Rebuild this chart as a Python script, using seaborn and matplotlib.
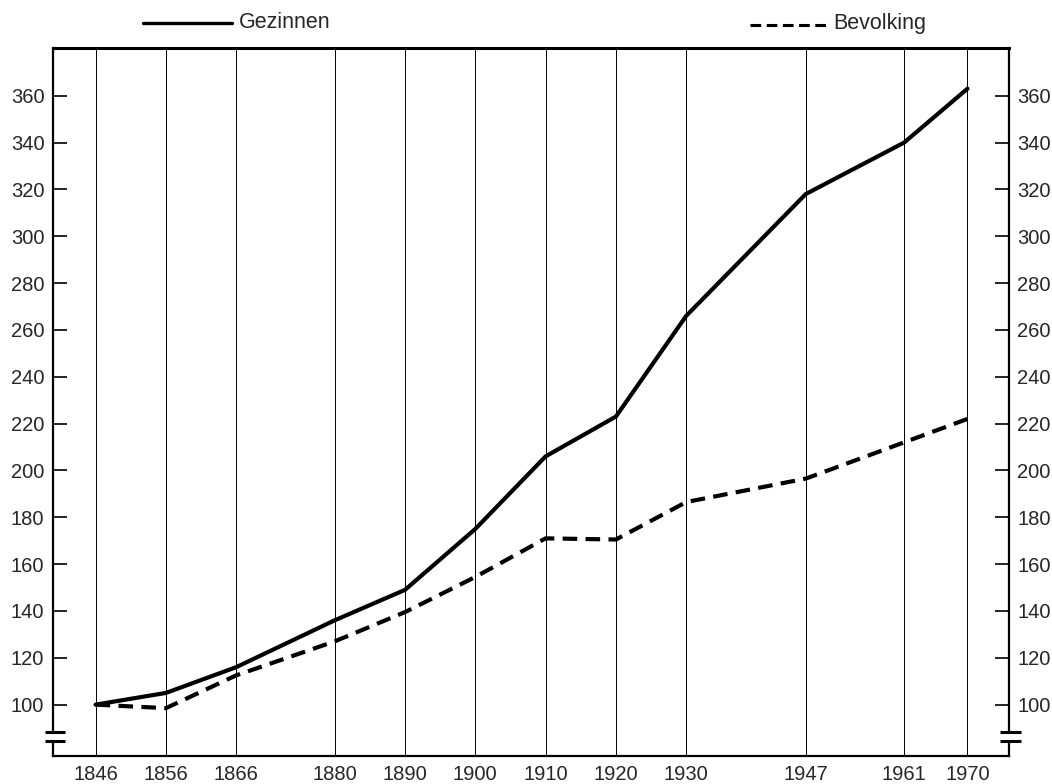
import matplotlib
matplotlib.use("Agg")
import matplotlib.pyplot as plt
from matplotlib.lines import Line2D
import seaborn as sns
import pandas as pd

years = [1846, 1856, 1866, 1880, 1890, 1900, 1910, 1920, 1930, 1947, 1961, 1970]
gezinnen = [100, 105, 116, 136, 149, 175, 206, 223, 266, 318, 340, 363]
bevolking = [100, 98.5, 112.5, 127, 139.5, 154.5, 171, 170.5, 186.5, 196.5, 212, 222]
yticks = list(range(100, 361, 20))
series_names = ["Gezinnen", "Bevolking"]

sns.set_style("white")
plt.rcParams['font.family'] = ['Liberation Sans', 'DejaVu Sans']

df = pd.DataFrame({
    "jaar": years * 2,
    "index": gezinnen + bevolking,
    "reeks": [series_names[0]] * len(years) + [series_names[1]] * len(years),
})

fig = plt.figure(figsize=(10.52, 7.84), dpi=100)
ax = fig.add_axes([0.0501, 0.0361, 0.909, 0.9031])

sns.lineplot(data=df, x="jaar", y="index", hue="reeks", style="reeks",
             palette={series_names[0]: "black", series_names[1]: "black"},
             dashes={series_names[0]: "", series_names[1]: (3.5, 2)},
             linewidth=3.0, legend=False, ax=ax, zorder=5)

ax.set_xlim(1839.9, 1975.9)
ax.set_ylim(78.2, 380.5)
ax.set_xticks(years)
ax.set_xticklabels([str(y) for y in years])
ax.set_yticks(yticks)
ax.set_yticklabels([str(v) for v in yticks])
ax.set_xlabel("")
ax.set_ylabel("")

ax.grid(axis="x", color="black", linewidth=0.7)
ax.grid(axis="y", visible=False)

ax.tick_params(axis="x", length=0, pad=7, labelsize=14.5)
ax.tick_params(axis="y", which="both", direction="in", length=10, width=1.2,
               left=True, right=True, labelleft=True, labelright=True,
               labelsize=14.5, pad=6, color="black")

for name, sp in ax.spines.items():
    sp.set_visible(True)
    sp.set_color("black")
    sp.set_linewidth(1.6)
ax.spines["top"].set_linewidth(2.2)

# axis break marks on both vertical axes
yt = ax.get_yaxis_transform()
for x0, x1, xs in [(-0.008, 0.013, 0.0), (0.9906, 1.0126, 1.0)]:
    ax.plot([xs, xs], [84.9, 88.0], color="white", lw=5, transform=yt,
            clip_on=False, zorder=20, solid_capstyle="butt")
    for yv in (88.2, 84.6):
        ax.plot([x0, x1], [yv, yv], color="black", lw=2.2, transform=yt,
                clip_on=False, zorder=21, solid_capstyle="butt")

# legend at the top
fig.add_artist(Line2D([143 / 1052, 232 / 1052], [1 - 23 / 784, 1 - 23 / 784],
                      color="black", lw=2.4, transform=fig.transFigure))
fig.text(239 / 1052, 1 - 22 / 784, series_names[0], fontsize=15.5,
         ha="left", va="center")
fig.add_artist(Line2D([750 / 1052, 829 / 1052], [1 - 25 / 784, 1 - 25 / 784],
                      color="black", lw=2.2, linestyle=(0, (3.5, 1.8)),
                      transform=fig.transFigure))
fig.text(833 / 1052, 1 - 24 / 784, series_names[1], fontsize=15.5,
         ha="left", va="center")

fig.savefig("out.png", dpi=100, facecolor="white")
